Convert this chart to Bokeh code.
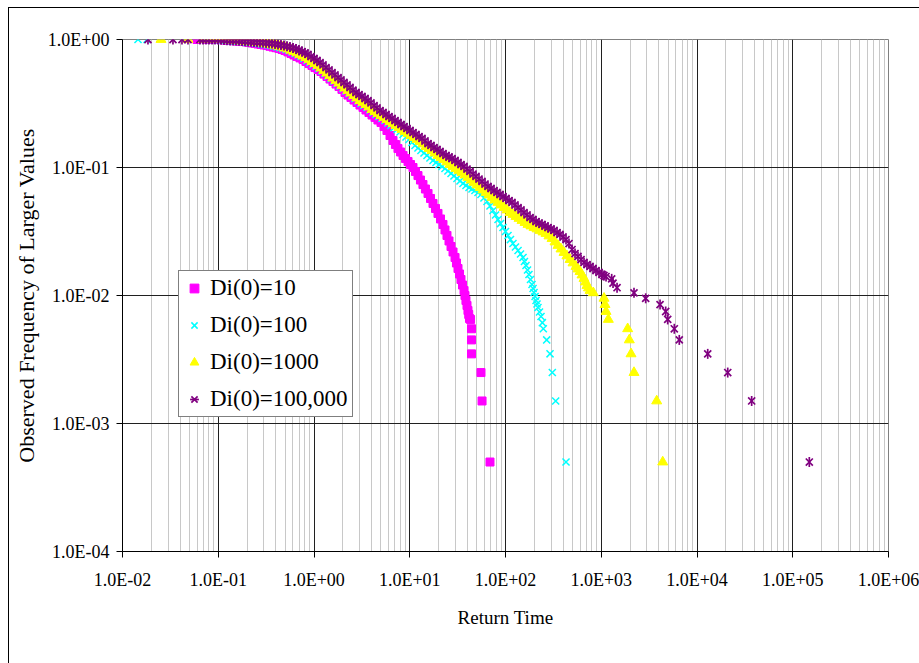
import numpy as np
from bokeh.plotting import figure
from bokeh.models import (Range1d, FixedTicker, CustomJSTickFormatter, Legend,
                          LegendItem, ColumnDataSource, GlobalInlineStyleSheet)
from bokeh.embed import file_html
from bokeh.resources import INLINE

# ---- data: log10(return time) and log10(observed frequency of larger values) ----
# Di(0)=10
lrt_10 = [-1.222, -1.117, -1.055, -0.992, -0.961, -0.929, -0.898, -0.867, -0.836, -0.804,
          -0.773, -0.742, -0.710, -0.679, -0.648, -0.616, -0.585, -0.554, -0.522, -0.491,
          -0.460, -0.428, -0.397, -0.366, -0.334, -0.303, -0.272, -0.240, -0.209, -0.178,
          -0.146, -0.115, -0.084, -0.052, -0.021, 0.010, 0.042, 0.073, 0.104, 0.136,
          0.167, 0.198, 0.230, 0.261, 0.292, 0.324, 0.355, 0.386, 0.418, 0.449,
          0.480, 0.512, 0.543, 0.574, 0.606, 0.637, 0.668, 0.700, 0.731, 0.762,
          0.794, 0.825, 0.851, 0.877, 0.904, 0.930, 0.956, 0.982, 1.008, 1.034,
          1.060, 1.086, 1.112, 1.138, 1.164, 1.191, 1.217, 1.243, 1.269, 1.295,
          1.321, 1.347, 1.368, 1.389, 1.410, 1.431, 1.452, 1.473, 1.488, 1.504,
          1.520, 1.535, 1.551, 1.567, 1.577, 1.587, 1.598, 1.608, 1.616, 1.624,
          1.635, 1.645, 1.645, 1.645, 1.744, 1.755, 1.838]
lfr_10 = [0.0, 0.0, 0.0, 0.0, -0.002, -0.004, -0.006, -0.008, -0.010, -0.012,
          -0.014, -0.016, -0.019, -0.023, -0.027, -0.031, -0.035, -0.039, -0.043, -0.047,
          -0.053, -0.059, -0.064, -0.070, -0.078, -0.086, -0.097, -0.109, -0.121, -0.133,
          -0.144, -0.156, -0.172, -0.188, -0.203, -0.219, -0.234, -0.250, -0.270, -0.289,
          -0.309, -0.328, -0.348, -0.367, -0.390, -0.414, -0.434, -0.453, -0.473, -0.492,
          -0.512, -0.531, -0.551, -0.570, -0.590, -0.609, -0.629, -0.648, -0.680, -0.711,
          -0.750, -0.789, -0.820, -0.852, -0.879, -0.906, -0.930, -0.953, -0.977, -1.000,
          -1.031, -1.063, -1.098, -1.133, -1.168, -1.203, -1.242, -1.281, -1.320, -1.359,
          -1.402, -1.445, -1.488, -1.531, -1.574, -1.617, -1.660, -1.703, -1.746, -1.789,
          -1.832, -1.875, -1.918, -1.961, -2.000, -2.039, -2.078, -2.117, -2.148, -2.180,
          -2.187, -2.260, -2.347, -2.456, -2.602, -2.824, -3.301]

# Di(0)=100
lrt_100 = [-1.838, -1.744, -1.138, -1.107, -1.076, -1.044, -1.013, -0.982, -0.950, -0.919,
           -0.888, -0.857, -0.825, -0.794, -0.762, -0.731, -0.700, -0.668, -0.637, -0.606,
           -0.574, -0.543, -0.512, -0.480, -0.449, -0.418, -0.386, -0.355, -0.324, -0.292,
           -0.261, -0.230, -0.198, -0.167, -0.136, -0.104, -0.073, -0.042, -0.010, 0.021,
           0.052, 0.084, 0.115, 0.146, 0.178, 0.209, 0.240, 0.272, 0.303, 0.334,
           0.366, 0.397, 0.428, 0.460, 0.491, 0.522, 0.554, 0.585, 0.616, 0.648,
           0.679, 0.710, 0.742, 0.773, 0.804, 0.836, 0.867, 0.898, 0.930, 0.961,
           0.992, 1.023, 1.055, 1.086, 1.117, 1.149, 1.180, 1.211, 1.243, 1.274,
           1.305, 1.337, 1.368, 1.399, 1.431, 1.462, 1.493, 1.525, 1.556, 1.587,
           1.619, 1.650, 1.681, 1.713, 1.744, 1.775, 1.807, 1.838, 1.869, 1.896,
           1.922, 1.948, 1.974, 2.000, 2.026, 2.052, 2.078, 2.104, 2.131, 2.157,
           2.183, 2.198, 2.214, 2.230, 2.245, 2.261, 2.277, 2.288, 2.298, 2.309,
           2.319, 2.329, 2.339, 2.355, 2.371, 2.385, 2.395, 2.430, 2.465, 2.489,
           2.524, 2.632]
lfr_100 = [0.0, 0.0, 0.0, 0.0, 0.0, 0.0, 0.0, -0.002, -0.004, -0.006,
           -0.008, -0.010, -0.012, -0.014, -0.016, -0.018, -0.020, -0.022, -0.023, -0.027,
           -0.031, -0.035, -0.039, -0.043, -0.047, -0.053, -0.059, -0.064, -0.070, -0.078,
           -0.086, -0.097, -0.109, -0.121, -0.133, -0.148, -0.164, -0.180, -0.195, -0.211,
           -0.227, -0.246, -0.266, -0.285, -0.305, -0.324, -0.344, -0.363, -0.383, -0.402,
           -0.422, -0.441, -0.461, -0.480, -0.500, -0.516, -0.531, -0.551, -0.570, -0.586,
           -0.602, -0.617, -0.633, -0.652, -0.672, -0.688, -0.703, -0.723, -0.742, -0.762,
           -0.781, -0.805, -0.828, -0.848, -0.867, -0.887, -0.906, -0.926, -0.945, -0.961,
           -0.977, -0.992, -1.008, -1.027, -1.047, -1.066, -1.086, -1.105, -1.125, -1.141,
           -1.156, -1.168, -1.180, -1.195, -1.211, -1.238, -1.266, -1.301, -1.336, -1.371,
           -1.406, -1.438, -1.469, -1.500, -1.531, -1.563, -1.594, -1.621, -1.648, -1.676,
           -1.703, -1.734, -1.766, -1.801, -1.836, -1.875, -1.914, -1.945, -1.977, -2.008,
           -2.039, -2.066, -2.094, -2.129, -2.164, -2.212, -2.260, -2.347, -2.456, -2.602,
           -2.824, -3.301]

# Di(0)=1000
lrt_1000 = [-1.598, -1.316, -1.159, -1.086, -1.055, -1.023, -0.992, -0.961, -0.929, -0.898,
            -0.867, -0.836, -0.804, -0.773, -0.742, -0.710, -0.679, -0.648, -0.616, -0.585,
            -0.554, -0.522, -0.491, -0.460, -0.428, -0.397, -0.366, -0.334, -0.303, -0.272,
            -0.240, -0.209, -0.178, -0.146, -0.115, -0.084, -0.052, -0.021, 0.010, 0.042,
            0.073, 0.104, 0.136, 0.167, 0.198, 0.230, 0.261, 0.292, 0.324, 0.355,
            0.386, 0.418, 0.449, 0.480, 0.512, 0.543, 0.574, 0.606, 0.637, 0.668,
            0.700, 0.731, 0.762, 0.794, 0.825, 0.856, 0.888, 0.919, 0.950, 0.982,
            1.013, 1.044, 1.076, 1.107, 1.138, 1.170, 1.201, 1.232, 1.264, 1.295,
            1.326, 1.358, 1.389, 1.420, 1.452, 1.483, 1.514, 1.546, 1.577, 1.608,
            1.640, 1.671, 1.702, 1.734, 1.765, 1.796, 1.828, 1.859, 1.890, 1.922,
            1.953, 1.984, 2.016, 2.047, 2.078, 2.110, 2.141, 2.172, 2.204, 2.235,
            2.266, 2.298, 2.329, 2.360, 2.392, 2.423, 2.454, 2.486, 2.517, 2.548,
            2.580, 2.611, 2.642, 2.674, 2.705, 2.736, 2.757, 2.778, 2.799, 2.820,
            2.836, 2.851, 2.867, 2.883, 2.917, 3.029, 3.039, 3.050, 3.074, 3.276,
            3.293, 3.311, 3.342, 3.579, 3.642]
lfr_1000 = [0.0, 0.0, 0.0, 0.0, 0.0, 0.0, 0.0, 0.0, -0.002, -0.004,
            -0.006, -0.008, -0.010, -0.012, -0.014, -0.016, -0.018, -0.020, -0.022, -0.023,
            -0.027, -0.031, -0.035, -0.039, -0.043, -0.047, -0.053, -0.059, -0.066, -0.074,
            -0.084, -0.094, -0.105, -0.117, -0.129, -0.141, -0.156, -0.172, -0.188, -0.203,
            -0.223, -0.242, -0.262, -0.281, -0.301, -0.320, -0.340, -0.359, -0.379, -0.398,
            -0.418, -0.438, -0.457, -0.477, -0.492, -0.508, -0.527, -0.547, -0.563, -0.578,
            -0.594, -0.609, -0.625, -0.641, -0.656, -0.672, -0.688, -0.703, -0.719, -0.734,
            -0.750, -0.766, -0.781, -0.797, -0.816, -0.836, -0.852, -0.867, -0.887, -0.906,
            -0.922, -0.938, -0.957, -0.977, -0.992, -1.008, -1.023, -1.039, -1.059, -1.078,
            -1.098, -1.117, -1.137, -1.156, -1.176, -1.195, -1.215, -1.234, -1.254, -1.273,
            -1.293, -1.313, -1.332, -1.352, -1.367, -1.383, -1.398, -1.414, -1.430, -1.445,
            -1.457, -1.469, -1.480, -1.492, -1.504, -1.516, -1.535, -1.555, -1.582, -1.609,
            -1.637, -1.664, -1.691, -1.719, -1.746, -1.773, -1.793, -1.813, -1.840, -1.867,
            -1.895, -1.922, -1.941, -1.961, -1.979, -2.022, -2.071, -2.125, -2.187, -2.260,
            -2.347, -2.456, -2.602, -2.824, -3.301]

# Di(0)=100,000
lrt_1e5 = [-1.734, -1.473, -1.379, -1.316, -1.191, -1.159, -1.128, -1.097, -1.065, -1.034,
           -1.003, -0.971, -0.940, -0.909, -0.877, -0.846, -0.815, -0.783, -0.752, -0.721,
           -0.689, -0.658, -0.627, -0.595, -0.564, -0.533, -0.501, -0.470, -0.439, -0.407,
           -0.376, -0.345, -0.313, -0.282, -0.251, -0.219, -0.188, -0.157, -0.125, -0.094,
           -0.063, -0.031, 0.000, 0.031, 0.063, 0.094, 0.125, 0.157, 0.188, 0.219,
           0.251, 0.282, 0.313, 0.345, 0.376, 0.407, 0.439, 0.470, 0.501, 0.533,
           0.564, 0.595, 0.627, 0.658, 0.689, 0.721, 0.752, 0.783, 0.815, 0.846,
           0.877, 0.909, 0.940, 0.971, 1.003, 1.034, 1.065, 1.097, 1.128, 1.159,
           1.191, 1.222, 1.253, 1.285, 1.316, 1.347, 1.379, 1.410, 1.441, 1.473,
           1.504, 1.535, 1.567, 1.598, 1.629, 1.661, 1.692, 1.723, 1.755, 1.786,
           1.817, 1.849, 1.880, 1.911, 1.943, 1.974, 2.005, 2.037, 2.068, 2.099,
           2.131, 2.162, 2.193, 2.225, 2.256, 2.287, 2.319, 2.350, 2.381, 2.413,
           2.444, 2.475, 2.507, 2.538, 2.569, 2.601, 2.632, 2.663, 2.695, 2.726,
           2.757, 2.789, 2.820, 2.851, 2.883, 2.914, 2.945, 2.977, 3.008, 3.029,
           3.050, 3.109, 3.123, 3.165, 3.342, 3.464, 3.614, 3.673, 3.694, 3.763,
           3.815, 4.112, 4.321, 4.571, 5.173]
lfr_1e5 = [0.0, 0.0, 0.0, 0.0, 0.0, 0.0, 0.0, 0.0, 0.0, 0.0,
           0.0, -0.002, -0.004, -0.006, -0.008, -0.008, -0.008, -0.010, -0.012, -0.014,
           -0.016, -0.018, -0.020, -0.022, -0.023, -0.025, -0.027, -0.029, -0.031, -0.035,
           -0.039, -0.043, -0.047, -0.053, -0.059, -0.066, -0.074, -0.084, -0.094, -0.105,
           -0.117, -0.133, -0.148, -0.164, -0.180, -0.199, -0.219, -0.238, -0.258, -0.277,
           -0.297, -0.316, -0.336, -0.355, -0.375, -0.395, -0.414, -0.430, -0.445, -0.461,
           -0.477, -0.496, -0.516, -0.535, -0.555, -0.570, -0.586, -0.602, -0.617, -0.633,
           -0.648, -0.664, -0.680, -0.695, -0.711, -0.727, -0.742, -0.758, -0.773, -0.793,
           -0.813, -0.828, -0.844, -0.859, -0.875, -0.891, -0.906, -0.918, -0.930, -0.945,
           -0.961, -0.977, -0.992, -1.012, -1.031, -1.051, -1.070, -1.090, -1.109, -1.129,
           -1.148, -1.164, -1.180, -1.195, -1.211, -1.227, -1.242, -1.258, -1.273, -1.293,
           -1.313, -1.332, -1.352, -1.371, -1.391, -1.406, -1.422, -1.434, -1.445, -1.457,
           -1.469, -1.480, -1.492, -1.508, -1.523, -1.543, -1.563, -1.594, -1.641, -1.672,
           -1.695, -1.719, -1.742, -1.758, -1.773, -1.789, -1.805, -1.820, -1.836, -1.844,
           -1.852, -1.870, -1.903, -1.939, -1.979, -2.022, -2.071, -2.125, -2.187, -2.260,
           -2.347, -2.456, -2.602, -2.824, -3.301]

labels = ["Di(0)=10", "Di(0)=100", "Di(0)=1000", "Di(0)=100,000"]
x_ticks = [1e-2, 1e-1, 1e0, 1e1, 1e2, 1e3, 1e4, 1e5, 1e6]
y_ticks = [1e-4, 1e-3, 1e-2, 1e-1, 1e0]

def src(lx, ly):
    return ColumnDataSource(dict(x=10 ** np.array(lx), y=10 ** np.array(ly)))

FONT = "Liberation Serif"

p = figure(x_axis_type="log", y_axis_type="log",
           x_range=Range1d(1e-2, 1e6), y_range=Range1d(1e-4, 1.0),
           frame_width=766, frame_height=512,
           min_border_left=113, min_border_right=32,
           min_border_top=31, min_border_bottom=113,
           output_backend="svg", toolbar_location=None,
           background_fill_color="white", border_fill_color="white")
p.styles = {"margin-left": "8px", "margin-top": "7px",
            "border-left": "1px solid black", "border-top": "1px solid black"}
p.stylesheets = [GlobalInlineStyleSheet(
    css="html, body { overflow: hidden !important; }")]
p.outline_line_color = "#808080"
p.outline_line_width = 1

minor = [m * 10.0 ** k for k in range(-2, 6) for m in range(2, 10)]
p.xaxis.ticker = FixedTicker(ticks=x_ticks, minor_ticks=minor)
p.yaxis.ticker = FixedTicker(ticks=y_ticks, minor_ticks=[])
fmt_code = """
const e = Math.round(Math.log10(tick));
const a = Math.abs(e);
return '1.0E' + (e < 0 ? '-' : '+') + (a < 10 ? '0' : '') + a;
"""
for ax in (p.xaxis[0], p.yaxis[0]):
    ax.formatter = CustomJSTickFormatter(code=fmt_code)
    ax.axis_line_color = "black"
    ax.axis_line_width = 1
    ax.major_tick_line_color = "black"
    ax.major_tick_in = 0
    ax.major_tick_out = 6
    ax.minor_tick_in = 0
    ax.minor_tick_out = 0
    ax.major_label_text_font = FONT
    ax.major_label_text_font_size = "18px"
    ax.major_label_text_color = "black"
    ax.axis_label_text_font = FONT
    ax.axis_label_text_font_style = "normal"
    ax.axis_label_text_color = "black"

p.xaxis.axis_label = "Return Time"
p.xaxis.axis_label_text_font_size = "19px"
p.xaxis.major_label_standoff = 12
p.xaxis.axis_label_standoff = 14
p.yaxis.axis_label = "Observed Frequency of Larger Values"
p.yaxis.axis_label_text_font_size = "22px"
p.yaxis.major_label_standoff = 7
p.yaxis.axis_label_standoff = 6

p.xgrid.grid_line_color = "#202020"
p.xgrid.minor_grid_line_color = "#c8c8c8"
p.ygrid.grid_line_color = "#202020"
p.ygrid.minor_grid_line_color = None

r1 = p.scatter("x", "y", source=src(lrt_10, lfr_10), marker="square", size=8,
               fill_color="#FF00FF", line_color="#FF00FF")
r2 = p.scatter("x", "y", source=src(lrt_100, lfr_100), marker="x", size=10,
               line_color="#00FFFF", line_width=1.5)
r3 = p.scatter("x", "y", source=src(lrt_1000, lfr_1000), marker="triangle", size=10,
               fill_color="#FFFF00", line_color="#FFFF00")
s4 = src(lrt_1e5, lfr_1e5)
r4a = p.scatter("x", "y", source=s4, marker="x", size=10,
                line_color="#800080", line_width=1.7)
r4b = p.scatter("x", "y", source=s4, marker="dash", size=10, angle=np.pi / 2,
                line_color="#800080", line_width=1.7)

legend = Legend(items=[LegendItem(label=labels[0], renderers=[r1]),
                       LegendItem(label=labels[1], renderers=[r2]),
                       LegendItem(label=labels[2], renderers=[r3]),
                       LegendItem(label=labels[3], renderers=[r4a, r4b])],
                location=(56, 134))
legend.border_line_color = "black"
legend.border_line_width = 1
legend.background_fill_color = "white"
legend.background_fill_alpha = 1.0
legend.padding = 4
legend.spacing = 11
legend.margin = 0
legend.glyph_width = 22
legend.glyph_height = 26
legend.label_height = 26
legend.label_standoff = 5
legend.label_text_font = FONT
legend.label_text_font_size = "23px"
legend.label_text_color = "black"
p.add_layout(legend)

open("out.html", "w").write(file_html(p, INLINE))
